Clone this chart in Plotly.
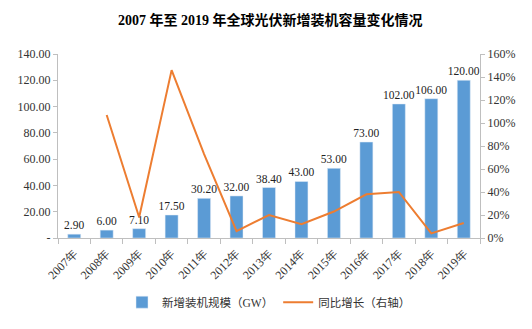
import plotly.graph_objects as go

years = ["2007年", "2008年", "2009年", "2010年", "2011年", "2012年", "2013年",
         "2014年", "2015年", "2016年", "2017年", "2018年", "2019年"]
capacity = [2.90, 6.00, 7.10, 17.50, 30.20, 32.00, 38.40, 43.00, 53.00, 73.00, 102.00, 106.00, 120.00]
growth = [None, 1.07, 0.18, 1.46, 0.73, 0.06, 0.20, 0.12, 0.23, 0.38, 0.40, 0.04, 0.13]

left_ticks = [0, 20, 40, 60, 80, 100, 120, 140]
left_text = ["-", "20.00", "40.00", "60.00", "80.00", "100.00", "120.00", "140.00"]
right_ticks = [0, 0.2, 0.4, 0.6, 0.8, 1.0, 1.2, 1.4, 1.6]
right_text = ["0%", "20%", "40%", "60%", "80%", "100%", "120%", "140%", "160%"]

serif = "Liberation Serif, Times New Roman, serif"
legend_font = "Liberation Serif, Noto Sans CJK SC, serif"

fig = go.Figure()
fig.add_trace(go.Bar(
    x=years, y=capacity, name="新增装机规模（GW）",
    marker=dict(color="#5B9BD5"), width=0.4,
    text=[f"{v:.2f}" for v in capacity], textposition="outside",
    constraintext="none",
    textfont=dict(family=serif, size=11.5, color="#222"), cliponaxis=False,
))
fig.add_trace(go.Scatter(
    x=years, y=growth, name="同比增长（右轴）", yaxis="y2", mode="lines",
    line=dict(color="#ED7D31", width=2), connectgaps=False,
))

fig.update_layout(
    width=532, height=329,
    margin=dict(l=58, r=52, t=54, b=83),
    paper_bgcolor="white", plot_bgcolor="white",
    title=dict(text="<b>2007 年至 2019 年全球光伏新增装机容量变化情况</b>",
               x=0.508, xanchor="center", y=0.94, yanchor="middle",
               font=dict(family="Liberation Serif, Noto Sans CJK SC, serif", size=14, color="#000")),
    showlegend=True,
    legend=dict(orientation="h", x=0.5, xanchor="center", y=-0.27, yanchor="top",
                font=dict(family=legend_font, size=11.5, color="#333"),
                itemwidth=30, traceorder="normal"),
    xaxis=dict(
        tickangle=-45, tickfont=dict(family=serif, size=12, color="#333"),
        showline=True, linecolor="#BFBFBF", ticks="outside", tickson="boundaries",
        tickcolor="#BFBFBF", ticklen=5, showgrid=False, ticklabelstandoff=3,
    ),
    yaxis=dict(
        range=[0, 140], tickvals=left_ticks, ticktext=left_text,
        tickfont=dict(family=serif, size=12, color="#333"),
        showline=True, linecolor="#BFBFBF", ticks="outside", tickcolor="#BFBFBF",
        ticklen=4, showgrid=False, zeroline=False,
    ),
    yaxis2=dict(
        range=[0, 1.6], tickvals=right_ticks, ticktext=right_text,
        overlaying="y", side="right",
        tickfont=dict(family=serif, size=12, color="#333"),
        showline=True, linecolor="#BFBFBF", ticks="outside", tickcolor="#BFBFBF",
        ticklen=4, showgrid=False, zeroline=False,
    ),
)

fig.write_html("out.html")
